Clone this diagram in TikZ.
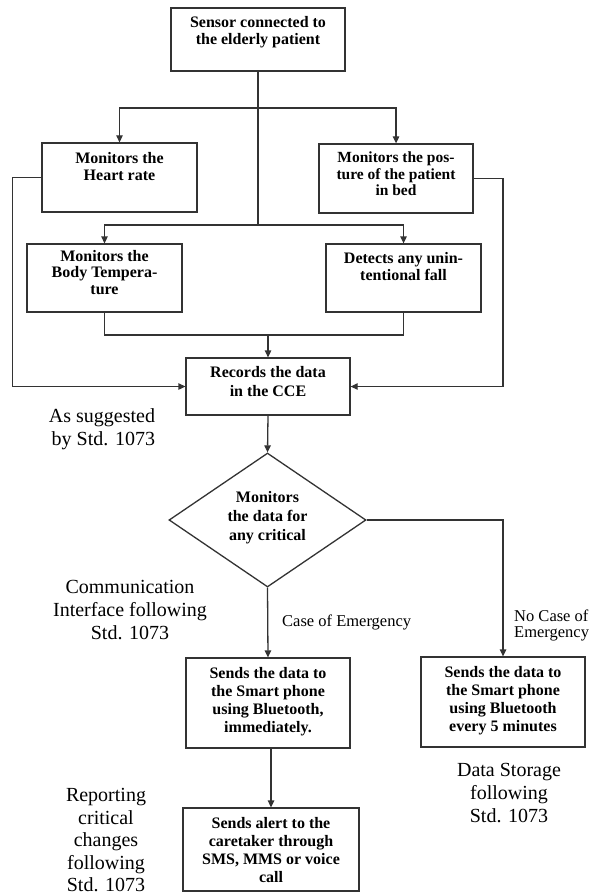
\documentclass[tikz,border=0pt]{standalone}
\usepackage{fontspec}
\setmainfont{Liberation Serif}
\usetikzlibrary{arrows.meta,shapes.geometric}
\tikzset{
  conn/.style={draw=black!80, line width=1.3pt},
  conarrow/.style={conn, -{Triangle[length=7pt,width=6.5pt]}},
  flowbox/.style={draw=black!80, line width=1.3pt, inner sep=0pt},
  btext/.style={font=\fontsize{16}{17}\selectfont\bfseries, align=center, inner sep=0pt, anchor=north},
  stdtext/.style={font=\fontsize{20}{23}\selectfont, align=center, inner sep=0pt},
  edgetext/.style={font=\fontsize{16.5}{16}\selectfont, inner sep=0pt}
}
\begin{document}
\begin{tikzpicture}[x=1pt,y=-1pt]
\useasboundingbox[fill=white] (0,0) rectangle (592,896);

% boxes
\node[flowbox, minimum width=174pt, minimum height=63pt] (sensor) at (258,39.5) {};
\node[btext] (sensorT) at ([yshift=-8.5pt]sensor.north) {Sensor connected to\\the elderly patient};

\node[flowbox, minimum width=155pt, minimum height=69pt] (heart) at (119.5,177.5) {};
\node[btext] (heartT) at ([yshift=-9.5pt]heart.north) {Monitors the\\Heart rate};

\node[flowbox, minimum width=154pt, minimum height=69pt] (posture) at (396,178.5) {};
\node[btext, font=\fontsize{15.5}{16.2}\selectfont\bfseries] (postureT) at ([yshift=-8.5pt]posture.north) {Monitors the pos-\\ture of the patient\\in bed};

\node[flowbox, minimum width=155pt, minimum height=68pt] (temp) at (104.5,278) {};
\node[btext, font=\fontsize{16}{16.2}\selectfont\bfseries] (tempT) at ([yshift=-7pt]temp.north) {Monitors the\\Body Tempera-\\ture};

\node[flowbox, minimum width=155pt, minimum height=68pt] (fall) at (403.5,278) {};
\node[btext] (fallT) at ([yshift=-8.5pt]fall.north) {Detects any unin-\\tentional fall};

\node[flowbox, minimum width=164pt, minimum height=57pt] (cce) at (268,386.5) {};
\node[btext, font=\fontsize{16}{19}\selectfont\bfseries] (cceT) at ([yshift=-9pt]cce.north) {Records the data\\in the CCE};

\node[draw=black!80, line width=1.3pt, diamond, inner sep=0pt, minimum width=197pt, minimum height=134pt] (dia) at (267.5,520) {};
\node[btext, anchor=center, font=\fontsize{16}{19}\selectfont\bfseries] (diaT) at (267.5,518) {Monitors\\the data for\\any critical};

\node[flowbox, minimum width=164pt, minimum height=90pt] (emerg) at (268,703) {};
\node[btext, font=\fontsize{16}{18}\selectfont\bfseries] (emergT) at ([yshift=-9.5pt]emerg.north) {Sends the data to\\the Smart phone\\using Bluetooth,\\immediately.};

\node[flowbox, minimum width=164pt, minimum height=90pt] (normal) at (503,702) {};
\node[btext, font=\fontsize{16}{18}\selectfont\bfseries] (normalT) at ([yshift=-9.5pt]normal.north) {Sends the data to\\the Smart phone\\using Bluetooth\\every 5 minutes};

\node[flowbox, minimum width=176pt, minimum height=83pt] (alert) at (271,849.5) {};
\node[btext, font=\fontsize{16}{18}\selectfont\bfseries] (alertT) at ([yshift=-9.5pt]alert.north) {Sends alert to the\\caretaker through\\SMS, MMS or voice\\call};

% connectors
\coordinate (split1) at (258,108);
\coordinate (split2) at (258,225);
\coordinate (merge) at (268,335);
\coordinate (lfx) at (12.7,0);
\coordinate (rfx) at (503,0);

\draw[conn] (sensor.south) -- (split2);
\draw[conarrow] (split1) -| (heart.north);
\draw[conarrow] (split1) -| (posture.north);
\draw[conarrow] (split2) -| (temp.north);
\draw[conarrow] (split2) -| (fall.north);
\draw[conn] (temp.south) -- (temp.south |- merge) -- (fall.south |- merge) -- (fall.south);
\draw[conarrow] (merge) -- (cce.north);
\draw[conarrow] (heart.west) -- (lfx |- heart.west) -- (lfx |- cce.west) -- (cce.west);
\draw[conarrow] (posture.east) -- (rfx |- posture.east) -- (rfx |- cce.east) -- (cce.east);
\draw[conarrow] (cce.south) -- (dia.north);
\draw[conarrow] (dia.east) -| (normal.north);
\draw[conarrow] (dia.south) -- (emerg.north);
\draw[conarrow] (emerg.south -| alert.north) -- (alert.north);

% labels
\node[stdtext, align=right] (std1) at (102,429) {As suggested\\by Std. 1073};
\node[stdtext] (std2) at (130,610) {Communication\\Interface following\\Std. 1073};
\node[stdtext, font=\fontsize{20}{22.5}\selectfont] (std3) at (106,840.5) {Reporting\\critical\\changes\\following\\Std. 1073};
\node[stdtext] (std4) at (509,793) {Data Storage\\following\\Std. 1073};
\node[edgetext, anchor=west] (caseE) at (282,622) {Case of Emergency};
\node[edgetext, align=left, anchor=west] (nocaseE) at (514,625) {No Case of\\Emergency};
\end{tikzpicture}
\end{document}
